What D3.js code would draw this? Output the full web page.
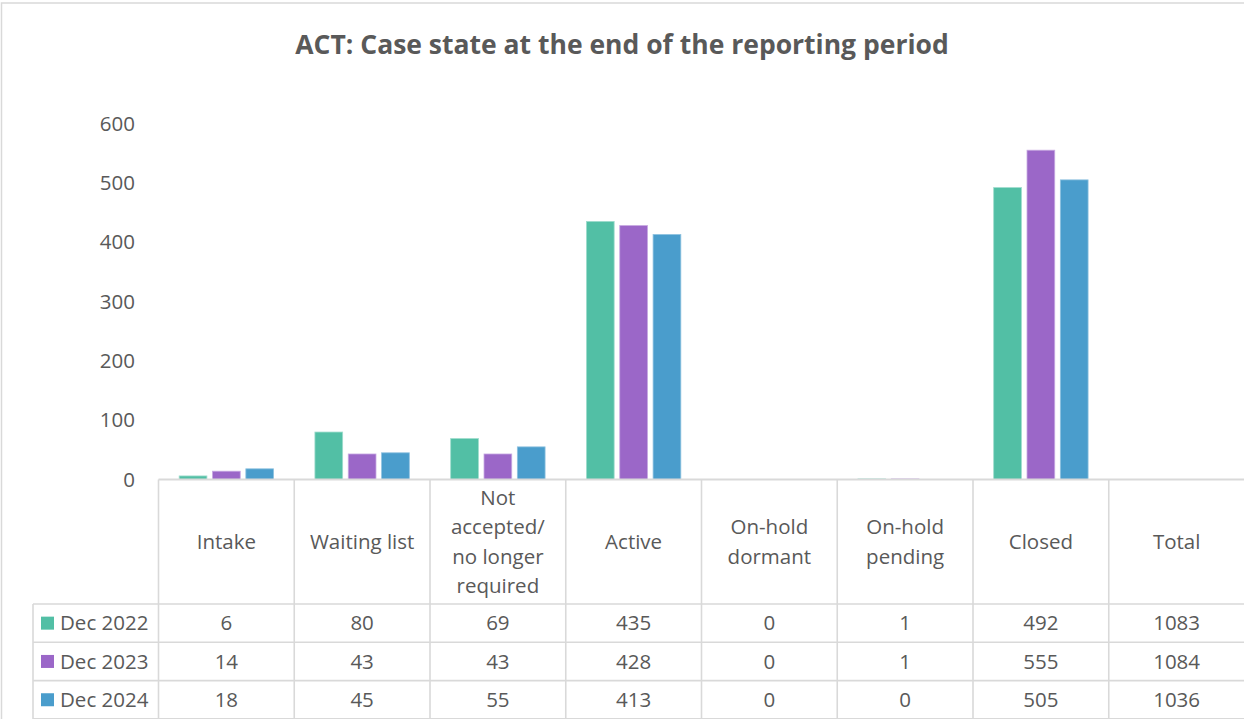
<!DOCTYPE html>
<html>
<head>
<meta charset="utf-8">
<script src="https://cdn.jsdelivr.net/npm/d3@7"></script>
<style>
  body { margin: 0; background: #fff; }
  svg { display: block; font-family: "Open Sans", Lato, sans-serif; }
</style>
</head>
<body>
<svg id="chart" width="1244" height="719"></svg>
<script>
// chart data
var categories = ["Intake", "Waiting list", "Not accepted/ no longer required", "Active",
                  "On-hold dormant", "On-hold pending", "Closed", "Total"];
var headerLines = [["Intake"], ["Waiting list"], ["Not", "accepted/", "no longer", "required"], ["Active"],
                   ["On-hold", "dormant"], ["On-hold", "pending"], ["Closed"], ["Total"]];
var seriesNames = ["Dec 2022", "Dec 2023", "Dec 2024"];
var dec2022 = [6, 80, 69, 435, 0, 1, 492, 1083];
var dec2023 = [14, 43, 43, 428, 0, 1, 555, 1084];
var dec2024 = [18, 45, 55, 413, 0, 0, 505, 1036];
var yTicks = [0, 100, 200, 300, 400, 500, 600];
// the Total column only appears in the table
var plotted = categories.slice(0, 7);

var seriesValues = [dec2022, dec2023, dec2024];
var colors = ["#52bfa5", "#9b67c8", "#4a9dcc"];
var strokes = ["#9fdccd", "#c7a9e2", "#8fc2e0"];
var textColor = "#595959";
var lineColor = "#d9d9d9";
var fs = 20.5;

var svg = d3.select("#chart");

// outer chart frame
svg.append("rect")
    .attr("x", 1.5).attr("y", 3)
    .attr("width", 1250).attr("height", 730)
    .attr("fill", "none").attr("stroke", lineColor).attr("stroke-width", 1.5);

svg.append("text")
    .attr("x", 622).attr("y", 54)
    .attr("text-anchor", "middle")
    .attr("font-size", 26.5).attr("font-weight", "bold")
    .attr("fill", textColor)
    .text("ACT: Case state at the end of the reporting period");

var x = d3.scaleBand().domain(categories).range([158.5, 1244.5]);
var xs = d3.scaleBand().domain(seriesNames).range([0, x.bandwidth()])
    .paddingInner(0.168).paddingOuter(0.62);
var y = d3.scaleLinear().domain([0, 600]).range([479.5, 123.5]);

// y axis labels
svg.append("g").selectAll("text")
    .data(yTicks)
    .join("text")
    .attr("x", 135)
    .attr("y", function(d) { return y(d); })
    .attr("dy", "0.35em")
    .attr("text-anchor", "end")
    .attr("font-size", fs)
    .attr("fill", textColor)
    .text(function(d) { return d; });

// bars
seriesValues.forEach(function(vals, si) {
    svg.append("g").selectAll("rect")
        .data(plotted)
        .join("rect")
        .attr("x", function(c) { return x(c) + xs(seriesNames[si]); })
        .attr("y", function(c, i) { return y(vals[i]); })
        .attr("width", xs.bandwidth())
        .attr("height", function(c, i) { return y(0) - y(vals[i]); })
        .attr("fill", colors[si])
        .attr("stroke", strokes[si])
        .attr("stroke-width", 0.8);
});

// data table
var headerTop = 479.5, headerBottom = 604, rowH = 38.3, legendLeft = 33;
var table = svg.append("g")
    .attr("stroke", lineColor).attr("stroke-width", 1.6).attr("fill", "none");

// horizontal axis line
table.append("line")
    .attr("x1", 158.5).attr("x2", 1244).attr("y1", headerTop).attr("y2", headerTop)
    .attr("stroke-width", 2);

var boundaries = categories.map(function(c) { return x(c); });
table.selectAll("line.v")
    .data(boundaries)
    .join("line")
    .attr("class", "v")
    .attr("x1", function(d) { return d; }).attr("x2", function(d) { return d; })
    .attr("y1", headerTop).attr("y2", 719);

table.append("line")
    .attr("x1", legendLeft).attr("x2", legendLeft)
    .attr("y1", headerBottom).attr("y2", 719);

table.selectAll("line.h")
    .data(d3.range(seriesNames.length + 1))
    .join("line")
    .attr("class", "h")
    .attr("x1", legendLeft).attr("x2", 1244)
    .attr("y1", function(i) { return headerBottom + i * rowH; })
    .attr("y2", function(i) { return headerBottom + i * rowH; });

// header labels
var lineH = 29.5;
categories.forEach(function(c, i) {
    var lines = headerLines[i];
    var midY = (headerTop + headerBottom) / 2;
    var startY = midY - (lines.length - 1) * lineH / 2;
    svg.append("text")
        .attr("x", x(c) + x.bandwidth() / 2)
        .attr("text-anchor", "middle")
        .attr("font-size", fs)
        .attr("fill", textColor)
        .selectAll("tspan")
        .data(lines)
        .join("tspan")
        .attr("x", x(c) + x.bandwidth() / 2)
        .attr("y", function(d, j) { return startY + j * lineH; })
        .attr("dy", "0.35em")
        .text(function(d) { return d; });
});

// rows
seriesNames.forEach(function(name, si) {
    var cy = headerBottom + si * rowH + rowH / 2;
    svg.append("rect")
        .attr("x", 41).attr("y", cy - 6.5)
        .attr("width", 13).attr("height", 13)
        .attr("fill", colors[si]);
    svg.append("text")
        .attr("x", 60).attr("y", cy).attr("dy", "0.35em")
        .attr("font-size", fs).attr("fill", textColor)
        .text(name);
    svg.append("g").selectAll("text")
        .data(categories)
        .join("text")
        .attr("x", function(c) { return x(c) + x.bandwidth() / 2; })
        .attr("y", cy).attr("dy", "0.35em")
        .attr("text-anchor", "middle")
        .attr("font-size", fs).attr("fill", textColor)
        .text(function(c, i) { return seriesValues[si][i]; });
});
</script>
</body>
</html>
